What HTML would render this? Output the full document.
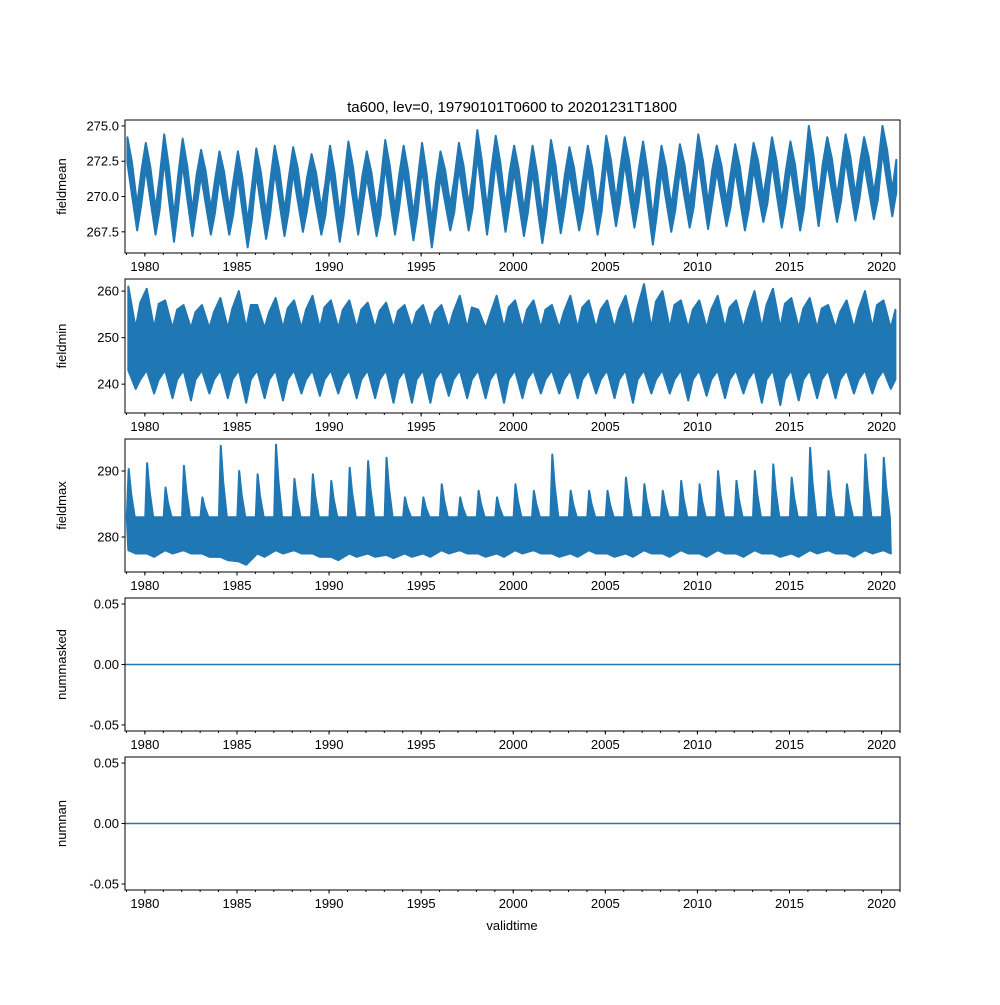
<!DOCTYPE html>
<html><head><meta charset="utf-8"><style>
body{margin:0;background:#fff}
svg text{font-family:"Liberation Sans","DejaVu Sans",sans-serif;font-size:13px;fill:#000}
</style></head><body>
<svg id="c" width="1000" height="1000" xmlns="http://www.w3.org/2000/svg"></svg>
<script>
const years=[];for(let y=1979;y<=2020;y++)years.push(y);
const xTicks=[1980,1985,1990,1995,2000,2005,2010,2015,2020];
const meanMax=[274.2,273.8,274.4,274.1,273.3,273.2,273.2,273.4,273.6,273.5,273.0,273.6,273.9,273.2,274.0,273.6,273.8,273.2,273.8,274.7,274.3,273.6,273.6,274.0,273.5,273.6,274.3,274.2,273.9,273.6,273.7,274.4,273.6,273.7,273.8,274.2,273.9,275.0,274.2,274.4,274.2,275.0];
const meanMin=[267.6,267.3,266.8,267.2,267.3,267.3,266.4,267.0,267.2,267.5,267.3,266.8,267.3,267.2,267.3,266.9,266.4,267.6,267.6,267.3,267.5,267.2,266.7,267.4,267.6,267.3,267.9,267.8,266.6,267.5,267.8,267.7,267.9,267.6,268.2,267.8,267.6,267.9,268.2,268.3,268.4,268.6];
const minMax=[261,260.5,258,257,257,258.5,260,257,258.5,258,259,258,258,257.5,257.5,257,257,257,259,256,259,258,258,257,259,258,258,259,261.5,260,258,258,259,258,260,260.5,258.5,258.5,257,258,260,258];
const minMin=[239,238,237,236.5,238,237,236,237,236.5,238,237.5,238,237,237,236,236,236,237.5,237,237,236,237,238,238,237,238,237,236,238,238,236.5,237.5,237,238,236,235.5,236.5,237,237,238,238,239];
const maxMax=[290.3,291.2,287.5,290.8,286,293.8,290,289.5,294,288.8,289.5,288.5,290.5,291.5,292,286,286,288,286,287,286,288,287,292.5,287,287,287,289,288,287,288.5,288,290,288.5,290,291,289,293.5,290,288,292.5,292];
const maxMin=[277.5,277,277.5,277.5,277,276.5,275.8,277,277.5,277.5,277,276.5,277,277,276.8,277,277,277.5,277.5,277,277,277.5,277.5,277,277,277.5,277,277,277.5,277,277.5,277,277.5,277,277.5,277,277,277.5,277.5,277,277.5,277.5];
const NS="http://www.w3.org/2000/svg",svg=document.getElementById('c');
const X0=125,X1=900,T0=1978.92,T1=2021.0;
const xs=t=>X0+(t-T0)/(T1-T0)*(X1-X0);
function el(tag,a,p){const e=document.createElementNS(NS,tag);for(const k in a)e.setAttribute(k,a[k]);(p||svg).appendChild(e);return e;}
const C='#1f77b4';
const panels=[
 {top:120,bot:253,lo:266.0,hi:275.42,ticks:[267.5,270.0,272.5,275.0],fmt:v=>v.toFixed(1),label:'fieldmean'},
 {top:279,bot:413,lo:233.8,hi:262.6,ticks:[240,250,260],fmt:v=>String(v),label:'fieldmin'},
 {top:439,bot:572,lo:274.7,hi:294.85,ticks:[280,290],fmt:v=>String(v),label:'fieldmax'},
 {top:598,bot:731,lo:-0.055,hi:0.055,ticks:[-0.05,0,0.05],fmt:v=>v.toFixed(2),label:'nummasked'},
 {top:757,bot:890,lo:-0.055,hi:0.055,ticks:[-0.05,0,0.05],fmt:v=>v.toFixed(2),label:'numnan'}];
panels.forEach((p,i)=>{
 const g=el('g',{});
 
 
 const ys=v=>p.bot-(v-p.lo)/(p.hi-p.lo)*(p.bot-p.top);
 const cp=el('clipPath',{id:'cp'+i},g);el('rect',{x:X0,y:p.top,width:X1-X0,height:p.bot-p.top},cp);
 const dg=el('g',{'clip-path':'url(#cp'+i+')'},g);
 let up=[],dn=[];
 if(i===0){
  years.forEach((y,k)=>{const mid=(meanMax[k]+meanMin[k])/2;
   up.push([y+0.05,meanMax[k]],[y+0.3,mid+1.5],[y+0.58,meanMin[k]+1.8],[y+0.8,mid+0.8]);
   dn.push([y+0.05,meanMax[k]-1.8],[y+0.3,mid-0.8],[y+0.58,meanMin[k]],[y+0.8,mid-1.5]);});
 }else if(i===1||i===2){
  const mx=i===1?minMax:maxMax,mn=i===1?minMin:maxMin;
  const cHi=i===1?254:283,cLo=i===1?241:278;
  years.forEach((y,k)=>{
   if(i===1){up.push([y+0.1,mx[k]],[y+0.5,cHi-2],[y+0.75,(mx[k]+cHi)/2]);dn.push([y+0.1,cLo+2],[y+0.5,mn[k]],[y+0.75,cLo]);}
   else{up.push([y+0.02,cHi],[y+0.12,mx[k]],[y+0.25,(mx[k]+cHi)/2],[y+0.45,cHi]);dn.push([y+0.1,mn[k]+0.5],[y+0.5,mn[k]]);}
  });
 }
 if(i<3){
  const poly=up.map(q=>xs(q[0])+','+ys(q[1])).concat(dn.slice().reverse().map(q=>xs(q[0])+','+ys(q[1])));
  const b=el('polygon',{points:poly.join(' '),fill:C,stroke:C,'stroke-width':2,'stroke-linejoin':'round'},dg);
  
 }else{
  const l=el('line',{x1:X0,x2:X1,y1:ys(0),y2:ys(0),stroke:C,'stroke-width':1.5},dg);
  
 }
 el('rect',{x:X0,y:p.top,width:X1-X0,height:p.bot-p.top,fill:'none',stroke:'#000','stroke-width':1},g);
 p.ticks.forEach(v=>{const y=ys(v);el('line',{x1:X0-3.5,x2:X0,y1:y,y2:y,stroke:'#000'},g);
  const t=el('text',{x:X0-6,y:y+4.5,'text-anchor':'end'},g);t.textContent=p.fmt(v);
  });
 years.concat([2021]).forEach(y=>{el('line',{x1:xs(y),x2:xs(y),y1:p.bot,y2:p.bot+2,stroke:'#000'},g);});
 xTicks.forEach(y=>{el('line',{x1:xs(y),x2:xs(y),y1:p.bot,y2:p.bot+3.5,stroke:'#000'},g);
  const t=el('text',{x:xs(y),y:p.bot+18,'text-anchor':'middle'},g);t.textContent=y;
  });
 const yl=el('text',{x:0,y:0,'text-anchor':'middle',transform:'translate(66,'+((p.top+p.bot)/2)+') rotate(-90)'},g);
 yl.textContent=p.label;
});
const tt=el('text',{x:512,y:112,'text-anchor':'middle'});tt.style.fontSize='15px';
tt.textContent='ta600, lev=0, 19790101T0600 to 20201231T1800';

const xl=el('text',{x:512,y:930,'text-anchor':'middle'});xl.textContent='validtime';

</script>
</body></html>
